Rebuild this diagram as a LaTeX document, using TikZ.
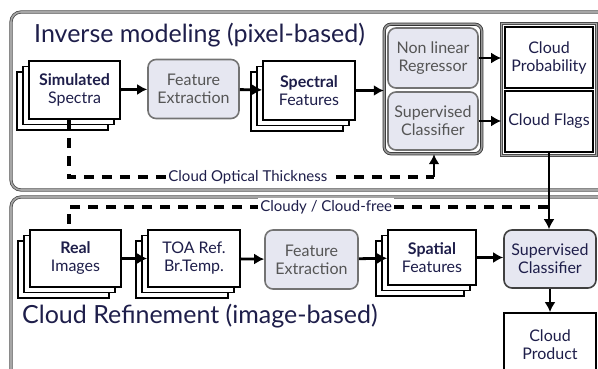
\documentclass[tikz,border=0pt]{standalone}
\usepackage{fontspec}
\setmainfont{Lato}
\usetikzlibrary{shadows,fit,arrows.meta}
\definecolor{lav}{HTML}{E6E7F1}
\definecolor{ink}{HTML}{1E1E4A}
\definecolor{greyink}{HTML}{555555}
\tikzset{
  stackbox/.style={draw, line width=1.8pt, fill=white, text=ink, align=center,
    minimum width=91pt, minimum height=58pt, inner sep=2pt,
    double copy shadow={shadow xshift=-6pt, shadow yshift=-5.5pt}},
  proc/.style={draw=black!55, line width=1.6pt, rounded corners=8pt, fill=lav,
    text=greyink, align=center, minimum width=91pt, minimum height=59pt},
  outbox/.style={draw, line width=1.8pt, fill=white, text=ink, align=center,
    minimum width=88pt, minimum height=61pt},
  panel/.style={draw=black!70, double=black!35, double distance=1.6pt,
    line width=.8pt, rounded corners=10pt},
  flow/.style={-{Latex[length=10pt,width=11pt]}, line width=2.8pt},
  feedback/.style={line width=3.4pt, dash pattern=on 10pt off 8pt},
  lbl/.style={fill=white, text=ink, font=\fontsize{15}{17}\selectfont, inner sep=2pt},
  title/.style={anchor=base west, text=ink, font=\fontsize{25}{30}\selectfont, inner sep=0pt}
}
\begin{document}
\begin{tikzpicture}[x=1pt, y=-1pt, font=\fontsize{16}{18}\selectfont]
  \useasboundingbox (0,0) rectangle (598,369);
  % the two panels
  \draw[panel] (11,12) rectangle (650,190);
  \draw[panel] (11,197) rectangle (650,430);
  \node[title] (ttop) at (34,43) {Inverse modeling (pixel-based)};
  \node[title] (tbot) at (22,323) {Cloud Refinement (image-based)};

  % pixel-based chain
  \node[stackbox] (sim) at (74.5,90) {\textbf{Simulated}\\Spectra};
  \node[proc] (fe1) at (193.5,89) {Feature\\Extraction};
  \node[stackbox, minimum width=92pt, minimum height=59pt] (spec) at (309,90.5) {\textbf{Spectral}\\Features};
  \node[proc, minimum width=90pt, minimum height=60pt] (reg) at (433,58) {Non linear\\Regressor};
  \node[proc, minimum width=90pt, minimum height=58pt] (cls) at (433,121) {Supervised\\Classifier};
  \node[panel, draw=black!80, double=black!40, rounded corners=7pt, inner sep=3pt, fit=(reg)(cls)] (grp) {};
  \node[outbox] (prob) at (549,57.5) {Cloud\\Probability};
  \node[outbox] (flags) at (549,121.5) {Cloud Flags};
  \node[panel, sharp corners, inner sep=2.5pt, fit=(prob)(flags)] (res) {};

  % image-based chain
  \node[stackbox, minimum height=57pt] (real) at (75.5,258.5) {\textbf{Real}\\Images};
  \node[stackbox, minimum width=92pt, minimum height=57pt] (toa) at (194,258.5) {TOA Ref.\\Br.Temp.};
  \node[proc, minimum width=93pt] (fe2) at (311.5,259.5) {Feature\\Extraction};
  \node[stackbox, minimum width=88pt, minimum height=55pt] (spat) at (432,257.5) {\textbf{Spatial}\\Features};
  \node[proc, draw=black!75, text=ink, minimum width=92pt, minimum height=58pt] (sc2) at (550,259) {Supervised\\Classifier};
  \node[outbox, minimum width=92pt, minimum height=64pt] (prod) at (550,345) {Cloud\\Product};

  % arrows
  \draw[flow] (sim) -- (fe1);
  \draw[flow] (fe1) -- (spec);
  \draw[flow] (spec) -- (spec -| grp.west);
  \draw[flow] (reg) -- (reg -| res.west);
  \draw[flow] (cls) -- (cls -| res.west);
  \draw[flow] (real) -- (toa);
  \draw[flow] (toa) -- (fe2);
  \draw[flow] (fe2) -- (spat);
  \draw[flow] (spat) -- (spat -| sc2.west);
  \draw[flow] (sc2) -- (prod);
  \draw[flow] (flags.south) -- (flags.south |- sc2.north);

  % feedback lines
  \coordinate (cotl) at (69,177);
  \coordinate (cotr) at (434,177);
  \draw[feedback] (sim.south -| cotl) -- (cotl)
    -- node[lbl, pos=.49] {Cloud Optical Thickness} (cotr);
  \draw[flow] (cotr) -- (cotr |- grp.south);
  \coordinate (cfr) at (548,207);
  \coordinate (cfl) at (69,207);
  \draw[feedback] (cfr) -- node[lbl, pos=.463] {Cloudy / Cloud-free} (cfl)
    -- (cfl |- real.north);
\end{tikzpicture}
\end{document}
